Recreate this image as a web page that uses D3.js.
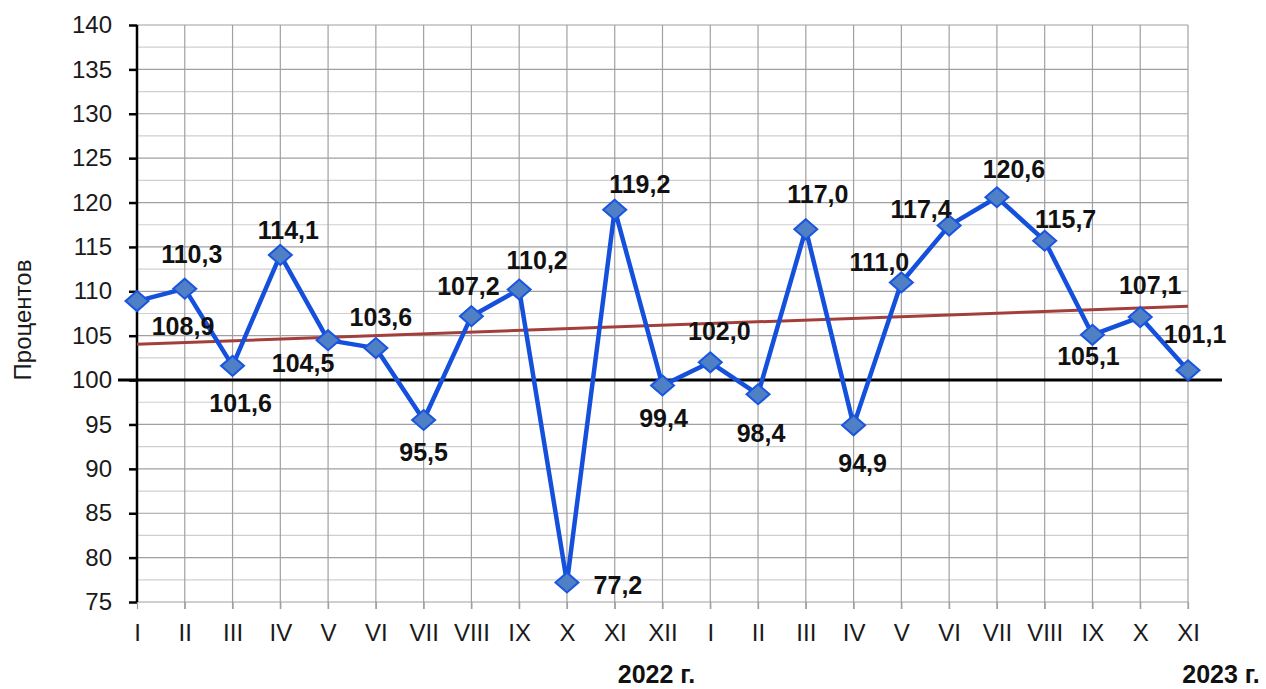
<!DOCTYPE html>
<html>
<head>
<meta charset="utf-8">
<script src="https://cdn.jsdelivr.net/npm/d3@7"></script>
<style>
  body { margin: 0; background: #fff; }
  svg { display: block; font-family: Arial, "Liberation Sans", sans-serif; }
</style>
</head>
<body>
<svg id="chart" width="1266" height="689"></svg>
<script>
// месяцы (январь 2022 – ноябрь 2023)
const months = ["I","II","III","IV","V","VI","VII","VIII","IX","X","XI","XII",
                "I","II","III","IV","V","VI","VII","VIII","IX","X","XI"];
const values = [108.9,110.3,101.6,114.1,104.5,103.6,95.5,107.2,110.2,77.2,119.2,99.4,
                102.0,98.4,117.0,94.9,111.0,117.4,120.6,115.7,105.1,107.1,101.1];
const yTicks = [75,80,85,90,95,100,105,110,115,120,125,130,135,140];
const yearLabels = [{ text: "2022 г.", at: 11 }, { text: "2023 г.", at: 22 }];

// смещения подписей значений относительно точки (только раскладка)
const labelOffsets = [
  [46,25],[7,-35],[8,37],[8,-25],[-25,23],[5,-31],[0,32],[-3,-30],
  [18,-30],[51,3],[25,-26],[1,33],[9,-31],[3,39],[12,-35],[9,38],
  [-22,-20],[-28,-17],[17,-28],[21,-22],[-4,21],[10,-32],[7,-36]
];

const FONT = "Arial, 'Liberation Sans', sans-serif";
const svg = d3.select("#chart");
const mLeft = 137, mRight = 1188, mTop = 25, mBottom = 602;

const x = d3.scaleLinear().domain([0, months.length - 1]).range([mLeft, mRight]);
const y = d3.scaleLinear().domain([75, 140]).range([mBottom, mTop]);

/* сетка */
const grid = svg.append("g");
grid.selectAll("line.minor")
  .data(d3.range(77.5, 140, 5))
  .join("line")
  .attr("x1", mLeft).attr("x2", mRight)
  .attr("y1", d => y(d)).attr("y2", d => y(d))
  .attr("stroke", "#cfcfcf").attr("stroke-width", 1.2);
grid.selectAll("line.major")
  .data(yTicks)
  .join("line")
  .attr("x1", mLeft).attr("x2", mRight)
  .attr("y1", d => y(d)).attr("y2", d => y(d))
  .attr("stroke", "#a0a0a0").attr("stroke-width", 1.2);
grid.selectAll("line.vert")
  .data(d3.range(1, months.length))
  .join("line")
  .attr("x1", d => x(d)).attr("x2", d => x(d))
  .attr("y1", mTop).attr("y2", mBottom + 7)
  .attr("stroke", "#a0a0a0").attr("stroke-width", 1.2);

/* ось Y */
const yAxis = svg.append("g")
  .attr("transform", `translate(${mLeft},0)`)
  .call(d3.axisLeft(y).tickValues(yTicks).tickSize(8).tickPadding(17));
yAxis.attr("font-family", FONT);
yAxis.select(".domain").attr("stroke", "#000").attr("stroke-width", 2.5)
  .attr("d", `M0,${mTop}V${mBottom}`);
yAxis.selectAll(".tick line").attr("stroke", "#000").attr("stroke-width", 2.5);
yAxis.selectAll(".tick text").attr("font-size", 24).attr("fill", "#1a1a1a");

/* ось X */
const xAxis = svg.append("g")
  .attr("transform", `translate(0,${mBottom})`)
  .call(d3.axisBottom(x).tickValues(d3.range(months.length))
    .tickFormat(i => months[i]).tickSize(7).tickPadding(15));
xAxis.attr("font-family", FONT);
xAxis.select(".domain").remove();
xAxis.selectAll(".tick line").attr("stroke", "#a0a0a0").attr("stroke-width", 1.2);
xAxis.selectAll(".tick text").attr("font-size", 24).attr("fill", "#1a1a1a");

svg.selectAll("text.year")
  .data(yearLabels)
  .join("text")
  .attr("class", "year")
  .attr("x", (d, i) => i === 0 ? x(d.at) - 6 : x(d.at) + 33)
  .attr("y", 683)
  .attr("text-anchor", "middle")
  .attr("font-size", 25).attr("font-weight", "bold").attr("fill", "#111")
  .text(d => d.text);

svg.append("text")
  .attr("transform", "translate(31,320) rotate(-90)")
  .attr("text-anchor", "middle")
  .attr("font-size", 24).attr("fill", "#1a1a1a")
  .text("Процентов");

/* линия 100 */
svg.append("line")
  .attr("x1", mLeft - 19).attr("x2", mRight + 34)
  .attr("y1", y(100)).attr("y2", y(100))
  .attr("stroke", "#000").attr("stroke-width", 3);

/* линейный тренд */
const idx = d3.range(values.length);
const mx = d3.mean(idx), my = d3.mean(values);
const slope = d3.sum(idx, i => (i - mx) * (values[i] - my)) / d3.sum(idx, i => (i - mx) ** 2);
const icpt = my - slope * mx;
svg.append("line")
  .attr("x1", x(0)).attr("x2", x(values.length - 1))
  .attr("y1", y(icpt)).attr("y2", y(icpt + slope * (values.length - 1)))
  .attr("stroke", "#a33f3b").attr("stroke-width", 3);

/* ряд */
svg.append("path")
  .datum(values)
  .attr("fill", "none")
  .attr("stroke", "#1550dc")
  .attr("stroke-width", 4.5)
  .attr("stroke-linejoin", "round")
  .attr("d", d3.line().x((d, i) => x(i)).y(d => y(d)));

svg.append("g").selectAll("path")
  .data(values)
  .join("path")
  .attr("transform", (d, i) => `translate(${x(i)},${y(d)})`)
  .attr("d", "M0,-10L11.5,0L0,10L-11.5,0Z")
  .attr("fill", "#4f7fc4")
  .attr("stroke", "#1a55e0")
  .attr("stroke-width", 2);

/* подписи значений */
svg.append("g").selectAll("text")
  .data(values)
  .join("text")
  .attr("x", (d, i) => x(i) + labelOffsets[i][0])
  .attr("y", (d, i) => y(d) + labelOffsets[i][1])
  .attr("dy", "0.36em")
  .attr("text-anchor", "middle")
  .attr("font-size", 25).attr("font-weight", "bold").attr("fill", "#111")
  .text(d => d3.format(".1f")(d).replace(".", ","));
</script>
</body>
</html>
